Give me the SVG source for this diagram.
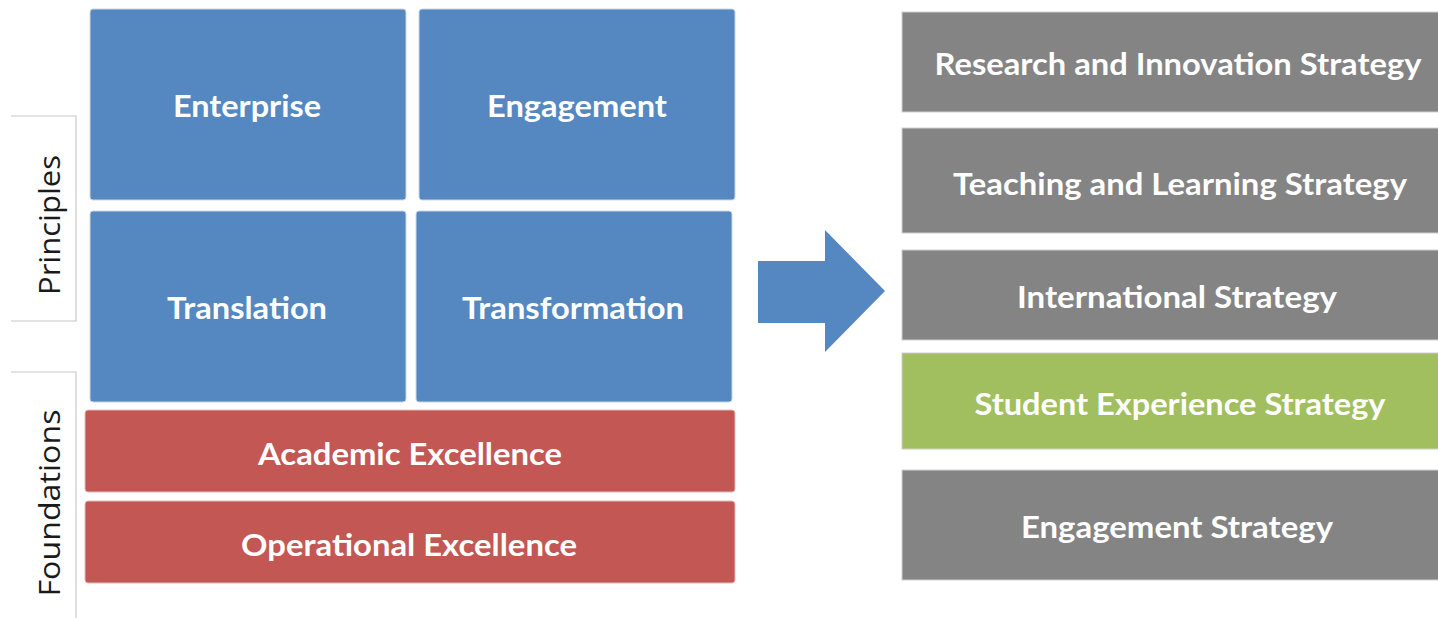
<svg xmlns="http://www.w3.org/2000/svg" width="1438" height="618" viewBox="0 0 1438 618">
<style>
.bl{fill:#5588C1;stroke:#C9D6E6;stroke-width:1}
.rd{fill:#C35753;stroke:#E3BDBC;stroke-width:1}
.gy{fill:#848484;stroke:#D0D0D0;stroke-width:1}
.gr{fill:#A1BF5F;stroke:#D0D0D0;stroke-width:1}
.t{font-family:Lato,"Open Sans","Liberation Sans",sans-serif;font-weight:bold;font-size:31px;fill:#FFFFFF;text-anchor:middle}
.v{font-family:"Open Sans",Lato,"Liberation Sans",sans-serif;font-size:29px;fill:#1A1A1A;text-anchor:middle}
.br{fill:none;stroke:#C8C8C8;stroke-width:1.2}
</style>
<rect width="1438" height="618" fill="#FFFFFF"/>
<g id="labels">
<path class="br" d="M11,116 H76 V321 H11"/>
<path class="br" d="M11,372 H76 V618"/>
<text class="v" transform="translate(60,225) rotate(-90)" textLength="140" lengthAdjust="spacingAndGlyphs">Principles</text>
<text class="v" transform="translate(60,503) rotate(-90)" textLength="187" lengthAdjust="spacingAndGlyphs">Foundations</text>
</g>
<g id="enterprise"><rect class="bl" x="90" y="9" width="316" height="191" rx="3"/><text class="t" x="247" y="117" textLength="148" lengthAdjust="spacingAndGlyphs">Enterprise</text></g>
<g id="engagement"><rect class="bl" x="419" y="9" width="316" height="191" rx="3"/><text class="t" x="577" y="117" textLength="180" lengthAdjust="spacingAndGlyphs">Engagement</text></g>
<g id="translation"><rect class="bl" x="90" y="211" width="316" height="191" rx="3"/><text class="t" x="247" y="319" textLength="160" lengthAdjust="spacingAndGlyphs">Translation</text></g>
<g id="transformation"><rect class="bl" x="416" y="211" width="316" height="191" rx="3"/><text class="t" x="573" y="319" textLength="222" lengthAdjust="spacingAndGlyphs">Transformation</text></g>
<g id="academic"><rect class="rd" x="85" y="410" width="650" height="82" rx="3"/><text class="t" x="410" y="465" textLength="304" lengthAdjust="spacingAndGlyphs">Academic Excellence</text></g>
<g id="operational"><rect class="rd" x="85" y="501" width="650" height="82" rx="3"/><text class="t" x="409" y="556" textLength="336" lengthAdjust="spacingAndGlyphs">Operational Excellence</text></g>
<g id="connectors">
<polygon points="758,261 825,261 825,230 885,291 825,352 825,323 758,323" fill="#5588C1"/>
</g>
<g id="research"><rect class="gy" x="902" y="12" width="540" height="100"/><text class="t" x="1178" y="75" textLength="487" lengthAdjust="spacingAndGlyphs">Research and Innovation Strategy</text></g>
<g id="teaching"><rect class="gy" x="902" y="128" width="540" height="105"/><text class="t" x="1180" y="195" textLength="454" lengthAdjust="spacingAndGlyphs">Teaching and Learning Strategy</text></g>
<g id="international"><rect class="gy" x="902" y="250" width="540" height="90"/><text class="t" x="1177" y="308" textLength="320" lengthAdjust="spacingAndGlyphs">International Strategy</text></g>
<g id="student"><rect class="gr" x="902" y="353" width="540" height="96"/><text class="t" x="1180" y="415" textLength="411" lengthAdjust="spacingAndGlyphs">Student Experience Strategy</text></g>
<g id="engagement-strategy"><rect class="gy" x="902" y="470" width="540" height="110"/><text class="t" x="1177" y="538" textLength="312" lengthAdjust="spacingAndGlyphs">Engagement Strategy</text></g>
</svg>
